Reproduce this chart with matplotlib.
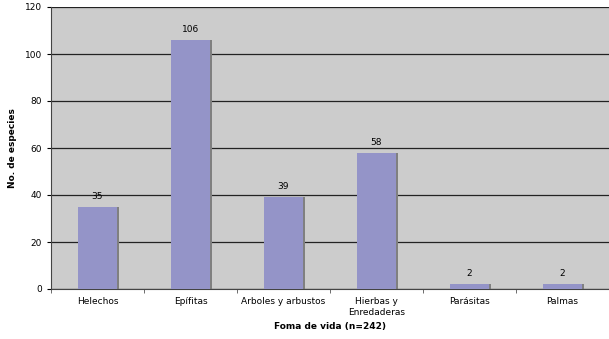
import matplotlib
matplotlib.use("Agg")
import matplotlib.pyplot as plt
import numpy as np

categories = ["Helechos", "Epífitas", "Arboles y arbustos", "Hierbas y\nEnredaderas", "Parásitas", "Palmas"]
counts = [35, 106, 39, 58, 2, 2]

fig = plt.figure(figsize=(6.09, 3.39), dpi=100)
ax = fig.add_axes([51 / 609, 50 / 339, 558 / 609, 282 / 339])
ax.set_facecolor("#cccccc")

x = np.arange(len(categories))
width = 0.41
# drop shadow, then bars
ax.bar(x + 0.025, counts, width=width, color="#808080", zorder=2)
ax.bar(x, counts, width=width, color="#9494c8", zorder=3)

for xi, v in zip(x, counts):
    ax.text(xi, v + 2.5, str(v), ha="center", va="bottom", fontsize=6.5, zorder=4)

ax.set_xlim(-0.5, len(categories) - 0.5)
ax.set_ylim(0, 120)
ax.set_yticks(range(0, 121, 20))
ax.yaxis.grid(True, color="#222222", linewidth=0.9, zorder=1)
ax.set_axisbelow(True)

ax.set_xticks(x)
ax.set_xticklabels(categories, fontsize=6.5)
ax.set_xticks(np.arange(len(categories) + 1) - 0.5, minor=True)
ax.tick_params(axis="x", which="major", length=0, pad=6)
ax.tick_params(axis="x", which="minor", length=3, color="#555555")
ax.tick_params(axis="y", labelsize=6.5, length=3)

for side in ["top", "right"]:
    ax.spines[side].set_visible(False)
ax.spines["left"].set_color("#444444")
ax.spines["bottom"].set_color("#444444")
ax.spines["left"].set_linewidth(0.8)
ax.spines["bottom"].set_linewidth(0.8)

ax.set_xlabel("Foma de vida (n=242)", fontsize=6.5, fontweight="bold", labelpad=4)
ax.set_ylabel("No. de especies", fontsize=6.5, fontweight="bold")
ax.yaxis.set_label_coords(-34 / 558, 0.5)

fig.savefig("out.png", dpi=100)
